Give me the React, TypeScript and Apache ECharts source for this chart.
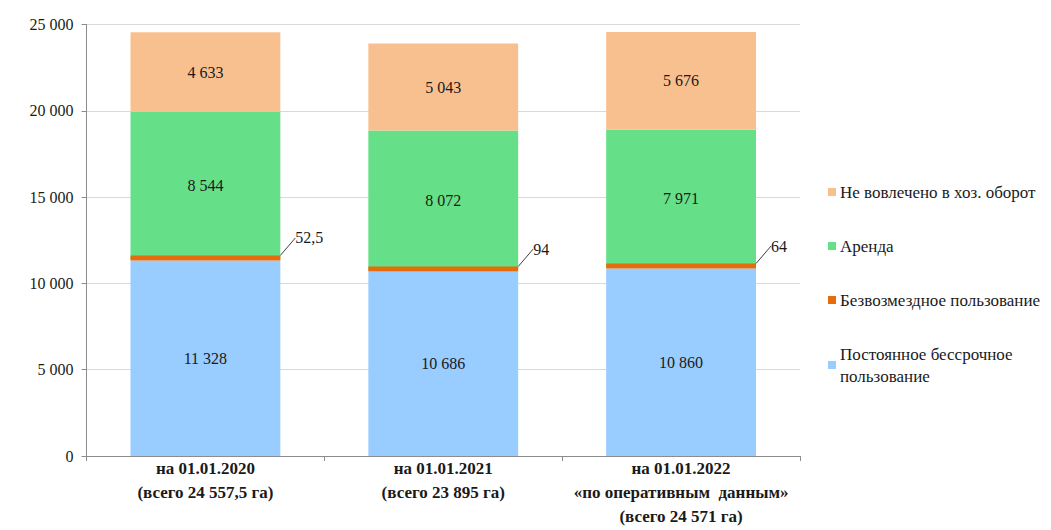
import React, { useEffect, useRef } from "react";
import * as echarts from "echarts";

const categories = [
  "на 01.01.2020\n(всего 24 557,5 га)",
  "на 01.01.2021\n(всего 23 895 га)",
  "на 01.01.2022\n«по оперативным  данным»\n(всего 24 571 га)",
];
const seriesNames = [
  "Постоянное бессрочное пользование",
  "Безвозмездное пользование",
  "Аренда",
  "Не вовлечено в хоз. оборот",
];
const permanentUse = [11328, 10686, 10860];
const freeUse = [52.5, 94, 64];
const lease = [8544, 8072, 7971];
const notInvolved = [4633, 5043, 5676];
const yTicks = [0, 5000, 10000, 15000, 20000, 25000];

const colors = ["#99CCFF", "#E46C0A", "#66E088", "#F9C08F"];
const FONT = "'Liberation Serif', 'Times New Roman', serif";

function fmt(v: number): string {
  const neg = v < 0;
  const abs = Math.abs(v);
  const [intPart, dec] = String(abs).split(".");
  const withSp = intPart.replace(/\B(?=(\d{3})+(?!\d))/g, " ");
  return (neg ? "-" : "") + withSp + (dec ? "," + dec : "");
}

export default function App() {
  const ref = useRef<HTMLDivElement>(null);
  useEffect(() => {
    if (!ref.current) return;
    const chart = echarts.init(ref.current, undefined, { renderer: "svg" });
    const inner = {
      show: true,
      position: "inside",
      color: "#1a1a1a",
      fontFamily: FONT,
      fontSize: 16,
      formatter: (p: any) => fmt(p.value),
    };
    const dataArr = [permanentUse, freeUse, lease, notInvolved];
    const series: any[] = dataArr.map((d, i) => {
      const s: any = {
        name: seriesNames[i],
        type: "bar",
        stack: "total",
        data: d,
        barCategoryGap: "37%",
        itemStyle: { color: colors[i] },
        label: inner,
      };
      if (i === 1) {
        s.z = 3;
        s.barMinHeight = 5;
        s.label = {
          show: true,
          position: "right",
          color: "#1a1a1a",
          fontFamily: FONT,
          fontSize: 16,
          formatter: (p: any) => fmt(p.value),
        };
        s.labelLayout = { dx: 10, dy: -20 };
        s.labelLine = { show: true, lineStyle: { color: "#404040", width: 1 } };
      }
      return s;
    });
    chart.setOption({
      animation: false,
      color: colors,
      grid: { left: 86.5, right: 251, top: 24.5, bottom: 74, containLabel: false },
      legend: {
        orient: "vertical",
        left: 828,
        top: 181,
        padding: 0,
        itemWidth: 8,
        itemHeight: 8,
        itemGap: 32,
        icon: "rect",
        data: [
          { name: seriesNames[3] },
          { name: seriesNames[2] },
          { name: seriesNames[1] },
          { name: seriesNames[0] },
        ],
        formatter: (n: string) =>
          n === seriesNames[0] ? "Постоянное бессрочное\nпользование" : n,
        textStyle: {
          fontFamily: FONT,
          fontSize: 17,
          color: "#1a1a1a",
          lineHeight: 22,
          padding: [0, 0, 0, -1],
        },
      },
      xAxis: {
        type: "category",
        data: categories,
        axisLine: { lineStyle: { color: "#8c8c8c" } },
        axisTick: { show: true, length: 5, lineStyle: { color: "#8c8c8c" } },
        axisLabel: {
          fontFamily: FONT,
          fontSize: 17,
          fontWeight: "bold",
          color: "#1a1a1a",
          lineHeight: 24,
          margin: 0,
          interval: 0,
        },
      },
      yAxis: {
        type: "value",
        min: yTicks[0],
        max: yTicks[yTicks.length - 1],
        interval: 5000,
        axisLine: { show: true, lineStyle: { color: "#8c8c8c" } },
        axisTick: { show: true, length: 5, lineStyle: { color: "#8c8c8c" } },
        splitLine: { lineStyle: { color: "#d9d9d9" } },
        axisLabel: {
          fontFamily: FONT,
          fontSize: 16,
          color: "#1a1a1a",
          margin: 13,
          formatter: (v: number) => fmt(v),
        },
      },
      series,
    });
    return () => chart.dispose();
  }, []);
  return (
    <div
      ref={ref}
      style={{ position: "fixed", left: 0, top: 0, width: 1051, height: 530, background: "#fff" }}
    />
  );
}
